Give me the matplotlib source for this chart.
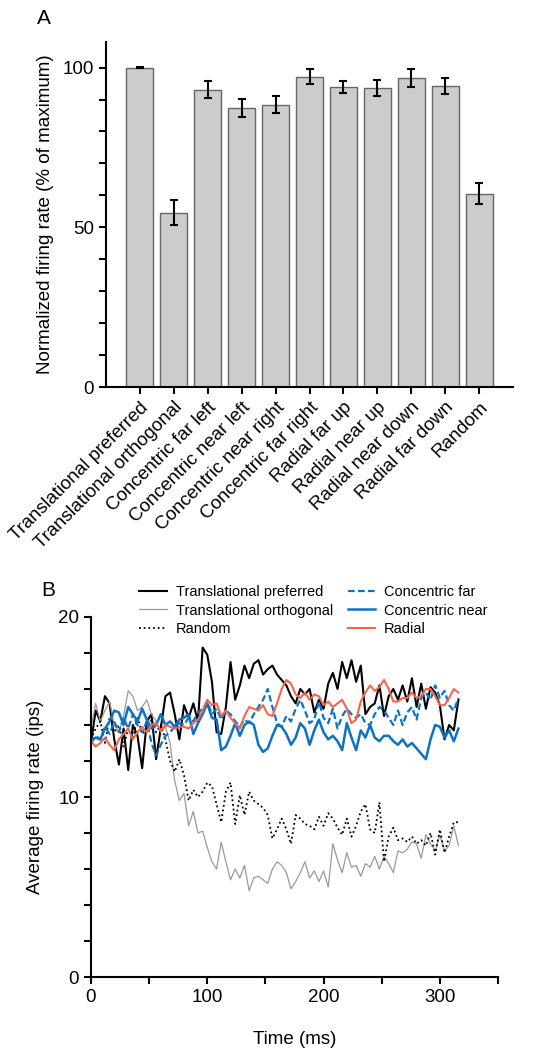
import numpy as np
import matplotlib
matplotlib.use("Agg")
import matplotlib.pyplot as plt

plt.rcParams['font.family'] = ['Liberation Sans', 'DejaVu Sans']

# --- Panel A data ---
conditions = ["Translational preferred", "Translational orthogonal", "Concentric far left",
              "Concentric near left", "Concentric near right", "Concentric far right",
              "Radial far up", "Radial near up", "Radial near down", "Radial far down", "Random"]
norm_rate = [100.0, 54.6, 93.1, 87.4, 88.4, 97.1, 93.8, 93.6, 96.8, 94.3, 60.5]
norm_err = [0.15, 3.9, 2.6, 2.9, 2.6, 2.3, 1.9, 2.4, 2.9, 2.5, 3.3]

# --- Panel B data (4 ms bins) ---
time_ms = np.arange(0, 320, 4)
transl_pref = [13.0, 14.8, 14.2, 15.6, 15.2, 13.2, 11.8, 13.8, 11.5, 14.0,
               13.4, 11.6, 14.2, 14.6, 12.1, 13.8, 15.6, 15.8, 14.6, 13.2,
               15.1, 14.4, 15.2, 14.2, 18.3, 17.9, 16.4, 13.6, 13.5, 15.0,
               17.5, 15.4, 16.2, 17.3, 16.6, 17.4, 17.6, 16.8, 17.1, 17.3,
               16.8, 16.5, 16.2, 15.6, 15.2, 16.0, 15.7, 16.0, 14.7, 15.4,
               14.9, 16.3, 16.9, 16.0, 17.5, 16.6, 17.6, 16.4, 17.3, 14.6,
               15.0, 15.2, 16.2, 14.5, 15.6, 16.0, 15.4, 16.2, 15.3, 16.6,
               15.0, 16.3, 14.9, 16.1, 15.8, 15.1, 13.2, 14.0, 13.7, 15.4]
transl_orth = [13.8, 15.2, 14.2, 14.8, 15.3, 14.0, 13.6, 14.5, 15.9, 15.6,
               14.8, 15.0, 15.4, 14.6, 14.2, 13.6, 13.9, 13.0, 10.9, 9.8,
               10.2, 8.4, 9.2, 8.0, 8.1, 7.2, 6.4, 6.0, 7.5, 6.4,
               5.4, 6.0, 5.5, 6.2, 4.8, 5.5, 5.6, 5.4, 5.2, 6.0,
               6.4, 6.2, 5.8, 4.9, 5.3, 5.8, 6.4, 5.5, 5.9, 5.3,
               5.9, 5.0, 7.4, 6.5, 5.8, 6.9, 6.1, 6.2, 5.6, 6.3,
               6.1, 6.7, 6.0, 6.7, 6.3, 5.8, 7.0, 6.9, 7.1, 7.5,
               7.4, 6.6, 7.9, 7.4, 7.0, 7.9, 7.0, 7.3, 8.4, 7.3]
random_dots = [13.2, 13.8, 14.2, 13.0, 14.4, 13.6, 14.0, 12.8, 13.8, 13.2,
               14.5, 13.5, 13.8, 14.3, 13.6, 14.0, 13.2, 12.0, 11.4, 12.1,
               11.2, 9.8, 10.4, 10.0, 10.3, 10.8, 10.6, 9.6, 8.6, 10.3,
               10.8, 8.5, 10.1, 9.0, 10.3, 9.8, 9.6, 9.4, 9.0, 7.7,
               8.2, 8.8, 8.2, 7.4, 9.0, 8.8, 8.5, 8.4, 8.2, 8.9,
               8.4, 9.1, 8.8, 8.3, 7.9, 8.8, 7.8, 8.4, 9.2, 9.6,
               8.2, 8.0, 9.7, 6.4, 7.8, 8.3, 7.6, 7.7, 7.5, 7.8,
               7.4, 7.6, 7.3, 8.0, 6.8, 8.2, 6.9, 7.8, 8.6, 8.6]
conc_far = [13.0, 13.4, 13.2, 13.9, 13.5, 14.2, 13.6, 14.4, 13.8, 14.6,
            14.0, 13.6, 14.2, 13.0, 12.3, 12.9, 13.4, 13.6, 13.9, 14.1,
            14.0, 14.4, 14.2, 14.7, 14.9, 15.3, 14.6, 14.9, 14.3, 14.8,
            14.6, 14.2, 13.9, 14.3, 14.1, 14.6, 15.0, 15.4, 16.0, 15.0,
            14.1, 13.9, 14.5, 14.2, 14.9, 15.4, 14.8, 14.1, 14.3, 15.3,
            14.4, 14.1, 14.9, 13.8, 14.5, 14.9, 14.6, 14.4, 14.6, 14.1,
            14.0, 14.6, 15.0, 14.8, 14.4, 14.0, 14.8, 14.0, 14.7, 15.0,
            14.3, 15.5, 15.8, 15.4, 16.2, 15.5, 15.9, 15.1, 14.8, 15.5]
conc_near = [13.1, 13.3, 13.2, 13.8, 14.2, 14.8, 14.7, 14.0, 15.0, 14.6,
             14.2, 14.9, 14.3, 13.8, 14.0, 14.6, 14.0, 14.2, 13.9, 14.3,
             14.4, 14.6, 13.5, 14.1, 14.6, 15.2, 14.4, 14.3, 12.6, 12.8,
             13.4, 14.1, 13.4, 14.0, 14.2, 14.0, 12.9, 12.5, 12.7, 13.4,
             14.0, 13.9, 13.5, 12.9, 13.3, 14.1, 13.8, 12.9, 13.7, 14.3,
             13.6, 13.2, 13.4, 13.1, 12.6, 14.1, 13.3, 12.6, 13.7, 13.3,
             14.0, 13.3, 13.1, 13.4, 13.4, 13.1, 12.9, 13.2, 12.8, 13.0,
             12.7, 12.4, 12.1, 13.2, 14.0, 13.9, 13.3, 13.7, 13.1, 13.8]
radial = [13.1, 12.8, 13.0, 13.3, 12.9, 12.6, 13.2, 13.5, 13.8, 13.2,
          13.6, 13.9, 13.6, 14.0, 14.1, 13.7, 14.0, 13.9, 13.8, 13.9,
          13.9, 13.8, 14.1, 14.3, 14.8, 15.4, 15.1, 15.2, 14.5, 14.8,
          14.4, 14.1, 13.8, 14.5, 15.0, 14.9, 14.8, 15.1, 14.6, 14.5,
          15.2, 16.0, 16.5, 16.3, 15.7, 15.5, 15.8, 15.4, 15.7, 15.6,
          15.1, 15.3, 15.0, 15.2, 15.4, 14.9, 14.1, 14.3, 15.3, 15.8,
          16.2, 15.9, 16.1, 16.5, 16.0, 15.3, 15.3, 15.5, 15.5, 15.8,
          15.5, 15.6, 16.0, 16.0, 15.6, 15.1, 15.1, 15.5, 16.0, 15.8]

fig = plt.figure(figsize=(5.4, 10.5), dpi=100)

# ---------------- Panel A ----------------
axA = fig.add_axes([0.1963, 0.6314, 0.7537, 0.3286])
x = np.arange(len(conditions))
axA.bar(x, norm_rate, width=0.8, color="#cccccc", edgecolor="#666666", linewidth=1.0)
axA.errorbar(x, norm_rate, yerr=norm_err, fmt="none", ecolor="black",
             elinewidth=1.5, capsize=3, capthick=1.5)
axA.set_xlim(-1, 11)
axA.set_ylim(0, 108)
axA.set_yticks([0, 50, 100])
axA.set_yticks(np.arange(0, 101, 10), minor=True)
axA.set_xticks(x)
axA.set_xticklabels(conditions, rotation=45, ha="right", va="top",
                    rotation_mode="anchor", fontsize=13.5)
axA.set_ylabel("Normalized firing rate (% of maximum)", fontsize=13.5, labelpad=6)
axA.tick_params(axis="both", which="major", labelsize=13.5, width=1.5, length=5)
axA.tick_params(axis="y", which="minor", width=1.5, length=5)
for s in ["top", "right"]:
    axA.spines[s].set_visible(False)
for s in ["left", "bottom"]:
    axA.spines[s].set_linewidth(1.5)
fig.text(44 / 540, 1 - 18 / 1050, "A", fontsize=15, ha="center", va="center")

# ---------------- Panel B ----------------
axB = fig.add_axes([0.1685, 0.0695, 0.7537, 0.3429])
blue = "#0b72c6"
red = "#f4664a"
axB.plot(time_ms, transl_pref, color="black", lw=1.5, label="Translational preferred")
axB.plot(time_ms, transl_orth, color="#999999", lw=0.9, label="Translational orthogonal")
axB.plot(time_ms, random_dots, color="black", lw=1.3, ls=(0, (1, 1.6)), label="Random")
axB.plot(time_ms, conc_far, color=blue, lw=1.6, ls=(0, (3, 1.5)), label="Concentric far")
axB.plot(time_ms, conc_near, color=blue, lw=1.8, label="Concentric near")
axB.plot(time_ms, radial, color=red, lw=1.5, label="Radial")
axB.set_xlim(0, 350)
axB.set_ylim(0, 20)
axB.set_xticks([0, 100, 200, 300])
axB.set_xticks(np.arange(0, 351, 50), minor=True)
axB.set_yticks([0, 10, 20])
axB.set_yticks(np.arange(0, 21, 2), minor=True)
axB.tick_params(axis="both", which="major", labelsize=13.5, width=1.5, length=5)
axB.tick_params(axis="both", which="minor", width=1.5, length=5)
axB.set_xlabel("Time (ms)", fontsize=13.5, labelpad=18)
axB.set_ylabel("Average firing rate (ips)", fontsize=13.5, labelpad=10)
for s in ["top", "right"]:
    axB.spines[s].set_visible(False)
for s in ["left", "bottom"]:
    axB.spines[s].set_linewidth(1.5)

handles, labels = axB.get_legend_handles_labels()
fig.legend(handles, labels, ncol=2, loc="upper left",
           bbox_to_anchor=(129 / 540, 1 - 575 / 1050), frameon=False,
           fontsize=10.5, handlelength=1.9, handletextpad=0.6,
           columnspacing=1.0, labelspacing=0.3, borderpad=0.2)
fig.text(48 / 540, 1 - 590 / 1050, "B", fontsize=15, ha="center", va="center")

fig.savefig("out.png", dpi=100)
